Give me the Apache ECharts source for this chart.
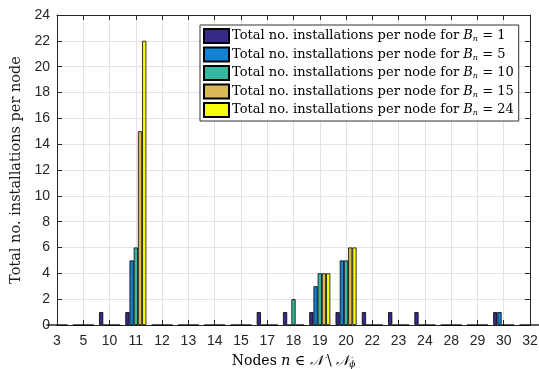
<!DOCTYPE html>
<html>
<head>
<meta charset="utf-8">
<script src="https://cdn.jsdelivr.net/npm/echarts@6/dist/echarts.min.js"></script>
<style>
  html, body { margin: 0; padding: 0; background: #fff; }
  #chart { width: 539px; height: 369px; }
</style>
</head>
<body>
<div id="chart"></div>
<script>
// Node labels along the x axis (one group of bars per node)
const nodes = ['3', '5', '10', '11', '12', '13', '14', '15', '17', '18', '19', '20', '22', '23', '24', '28', '29', '30', '32'];

// Total installations per node for each budget B_n
const budgets = ['1', '5', '10', '15', '24'];
const installsB1  = [0, 0, 1, 1, 0, 0, 0, 0, 1, 1, 1, 1, 1, 1, 1, 0, 0, 1, 0];
const installsB5  = [0, 0, 0, 5, 0, 0, 0, 0, 0, 0, 3, 5, 0, 0, 0, 0, 0, 1, 0];
const installsB10 = [0, 0, 0, 6, 0, 0, 0, 0, 0, 2, 4, 5, 0, 0, 0, 0, 0, 0, 0];
const installsB15 = [0, 0, 0, 15, 0, 0, 0, 0, 0, 0, 4, 6, 0, 0, 0, 0, 0, 0, 0];
const installsB24 = [0, 0, 0, 22, 0, 0, 0, 0, 0, 0, 4, 6, 0, 0, 0, 0, 0, 0, 0];

const seriesValues = [installsB1, installsB5, installsB10, installsB15, installsB24];
const colors = ['#352a87', '#1283d4', '#35b89f', '#d9ba56', '#f9fb0e'];

const serif = '"DejaVu Serif", "Liberation Serif", serif';
const sans = '"Liberation Sans", Arial, sans-serif';
const axisColor = '#262626';

// Bars sit on a numeric axis at positions 1..N so groups are centred on ticks
const series = seriesValues.map((vals, k) => ({
  name: 'B' + budgets[k],
  type: 'bar',
  xAxisIndex: 0,
  yAxisIndex: 0,
  clip: true,
  barGap: '0%',
  barCategoryGap: '20%',
  itemStyle: { color: colors[k], borderColor: '#000', borderWidth: 0.8 },
  emphasis: { disabled: true },
  data: vals.map((v, i) => [i + 1, v])
}));

const lfs = 13;
const legendRich = {
  t: { fontFamily: serif, fontSize: lfs, color: '#000', lineHeight: 14 },
  i: { fontFamily: serif, fontSize: lfs, fontStyle: 'italic', color: '#000', lineHeight: 14 },
  s: { fontFamily: serif, fontSize: 8, fontStyle: 'italic', color: '#000', lineHeight: 14, verticalAlign: 'bottom', padding: [5, 0, 0, 0] }
};

const tickCommon = { inside: true, length: 5, lineStyle: { color: axisColor, width: 1 } };

const option = {
  animation: false,
  backgroundColor: '#fff',
  grid: { left: 57, right: 9, top: 15, bottom: 44, containLabel: false, outerBoundsMode: 'none' },
  legend: {
    orient: 'vertical',
    left: 200,
    top: 25,
    itemWidth: 25,
    itemHeight: 14,
    itemGap: 2.5,
    padding: [3, 5, 3, 3],
    backgroundColor: '#fff',
    borderColor: '#333',
    borderWidth: 1,
    borderRadius: 0,
    selectedMode: false,
    data: series.map(s => ({ name: s.name, icon: 'rect' })),
    formatter: name => {
      const b = name.slice(1);
      return '{t|Total no. installations per node for }{i|B}{s|n}{t| = ' + b + '}';
    },
    textStyle: { rich: legendRich, padding: [0, 0, 0, -2] }
  },
  xAxis: [
    {
      type: 'value',
      position: 'bottom',
      min: 1, max: nodes.length, interval: 1,
      axisLine: { show: true, lineStyle: { color: axisColor, width: 1 } },
      axisTick: tickCommon,
      axisLabel: {
        show: true, margin: 9, fontFamily: sans, fontSize: 14, color: axisColor,
        formatter: v => nodes[Math.round(v) - 1] || ''
      },
      splitLine: { show: true, lineStyle: { color: '#e3e3e3', width: 1 } },
      name: '{t|Nodes }{i|n}{t| ∈ }{c|𝒩}{t| \\ }{c|𝒩}{s|ϕ}',
      nameLocation: 'middle',
      nameGap: 29,
      nameTextStyle: {
        rich: {
          t: { fontFamily: serif, fontSize: 14, color: '#000' },
          i: { fontFamily: serif, fontSize: 14, fontStyle: 'italic', color: '#000' },
          c: { fontFamily: serif, fontSize: 14, fontStyle: 'italic', color: '#000' },
          s: { fontFamily: serif, fontSize: 9, fontStyle: 'italic', color: '#000', verticalAlign: 'bottom', padding: [6, 0, 0, 0] }
        }
      }
    },
    {
      type: 'value',
      position: 'top',
      min: 1, max: nodes.length, interval: 1,
      axisLine: { show: true, onZero: false, lineStyle: { color: axisColor, width: 1 } },
      axisTick: tickCommon,
      axisLabel: { show: false },
      splitLine: { show: false }
    }
  ],
  yAxis: [
    {
      type: 'value',
      position: 'left',
      min: 0, max: 24, interval: 2,
      axisLine: { show: true, lineStyle: { color: axisColor, width: 1 } },
      axisTick: tickCommon,
      axisLabel: { fontFamily: sans, fontSize: 14, color: axisColor, margin: 7 },
      splitLine: { show: true, lineStyle: { color: '#e3e3e3', width: 1 } },
      name: 'Total no. installations per node',
      nameLocation: 'middle',
      nameGap: 31,
      nameTextStyle: { fontFamily: serif, fontSize: 14.5, color: '#1a1a1a' }
    },
    {
      type: 'value',
      position: 'right',
      min: 0, max: 24, interval: 2,
      axisLine: { show: true, onZero: false, lineStyle: { color: axisColor, width: 1 } },
      axisTick: tickCommon,
      axisLabel: { show: false },
      splitLine: { show: false }
    }
  ],
  series: series
};

const chart = echarts.init(document.getElementById('chart'), null, { renderer: 'canvas' });
chart.setOption(option);
</script>
</body>
</html>
